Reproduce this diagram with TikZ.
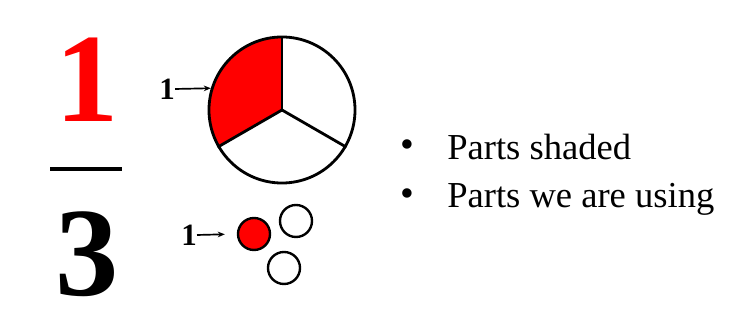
\documentclass[tikz,border=0pt]{standalone}
\usepackage{fontspec}
\setmainfont{Liberation Serif}
\usepackage{xcolor}
\usetikzlibrary{arrows.meta}

\begin{document}
\begin{tikzpicture}[x=0.025cm,y=0.025cm,
  dig/.style={inner sep=0,anchor=base,font=\fontsize{90}{90}\selectfont\bfseries},
  lbl/.style={inner sep=0,font=\fontsize{22}{22}\selectfont\bfseries},
  pie/.style={circle,draw,line width=2pt,minimum size=3.65cm,inner sep=0},
  dot/.style={circle,draw,line width=1.7pt,minimum size=0.8cm,inner sep=0},
  bul/.style={inner sep=0,font=\fontsize{28}{28}\selectfont},
  txt/.style={inner sep=0,anchor=base west,font=\fontsize{26}{26}\selectfont},
  a/.style={-{Stealth[length=5pt,width=4pt]},line width=1.2pt}
]
\useasboundingbox[fill=white] (0,0) rectangle (746,320);
% fraction
\node[dig,text=red] (num) at (87,198) {1};
\draw[line width=2.8pt] (50,151) -- (122,151);
\node[dig] (den) at (87,24) {3};
% pie cut in thirds
\coordinate (pc) at (282,210);
\fill[red] (pc) -- ++(90:73) arc[start angle=90,end angle=210,radius=73] -- cycle;
\node[pie] (pie) at (pc) {};
\draw[line width=2pt] (pie.center) -- (pie.90);
\draw[line width=2pt] (pie.center) -- (pie.210);
\draw[line width=2pt] (pie.center) -- (pie.330);
\node[lbl] (one1) at (167,231) {1};
\draw[a] (one1.east) -- (pie.163);
% three counters
\node[dot,fill=red] (c1) at (254,86) {};
\node[dot] (c2) at (296,99) {};
\node[dot] (c3) at (284,52) {};
\node[lbl] (one2) at (189,85) {1};
\draw[a,shorten >=0.3cm] (one2.east) -- (c1.west);
% list
\node[bul] (b1) at (407,171) {\textbullet};
\node[bul] (b2) at (407,122) {\textbullet};
\node[txt] (t1) at (447,160) {Parts shaded};
\node[txt] (t2) at (447,112) {Parts we are using};
\end{tikzpicture}
\end{document}
